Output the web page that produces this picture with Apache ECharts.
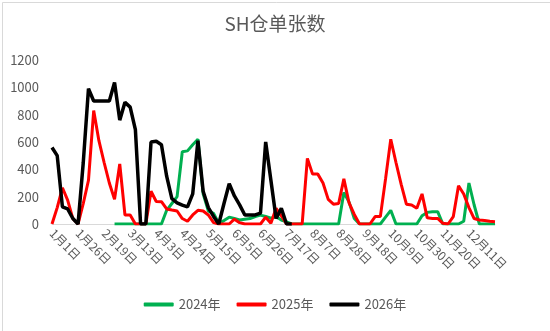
<!DOCTYPE html>
<html>
<head>
<meta charset="utf-8">
<script src="https://cdn.jsdelivr.net/npm/echarts@6/dist/echarts.min.js"></script>
<style>
  html, body { margin: 0; padding: 0; background: #fff; }
  #main { width: 550px; height: 331px; }
</style>
</head>
<body>
<div id="main"></div>
<script>
var categories = [
  '1月1日', '1月6日', '1月11日', '1月16日', '1月21日',
  '1月26日', '1月31日', '2月5日', '2月9日', '2月14日',
  '2月19日', '2月23日', '2月28日', '3月4日', '3月8日',
  '3月13日', '3月17日', '3月21日', '3月25日', '3月29日',
  '4月3日', '4月7日', '4月11日', '4月15日', '4月19日',
  '4月24日', '4月28日', '5月2日', '5月6日', '5月10日',
  '5月15日', '5月19日', '5月23日', '5月27日', '5月31日',
  '6月5日', '6月9日', '6月13日', '6月17日', '6月21日',
  '6月26日', '6月30日', '7月4日', '7月8日', '7月12日',
  '7月17日', '7月21日', '7月25日', '7月29日', '8月2日',
  '8月7日', '8月11日', '8月15日', '8月19日', '8月23日',
  '8月28日', '9月1日', '9月5日', '9月9日', '9月13日',
  '9月18日', '9月22日', '9月26日', '9月30日', '10月4日',
  '10月9日', '10月13日', '10月17日', '10月21日', '10月25日',
  '10月30日', '11月3日', '11月7日', '11月11日', '11月15日',
  '11月20日', '11月24日', '11月28日', '12月2日', '12月6日',
  '12月11日', '12月15日', '12月19日', '12月23日', '12月27日', '12月31日'
];

// labels actually printed under the axis
var tickLabels = [
  '1月1日', '1月26日', '2月19日', '3月13日', '4月3日', '4月24日',
  '5月15日', '6月5日', '6月26日', '7月17日', '8月7日', '8月28日',
  '9月18日', '10月9日', '10月30日', '11月20日', '12月11日'
];

var data2024 = [
  null, null, null, null, null, null, null, null, null, null, null, null,
  0, 0, 0, 0, 0, 0, 0, 0, 0, 0,
  100, 150, 200, 529, 535, 580, 620, 220, 95, 78,
  5, 25, 50, 40, 30, 35, 40, 55, 65, 55,
  42, 54, 29, 15, 0, 0, 0, 0, 0, 0,
  0, 0, 0, 0, 230, 160, 40, 0, 0, 0,
  0, 0, 50, 100, 0, 0, 0, 0, 0, 60,
  85, 90, 90, 0, 0, 0, 0, 20, 300, 139,
  0, 0, 0, 0
];

var data2025 = [
  0, 120, 265, 175, 40, 0, 150, 320, 830, 610,
  450, 300, 180, 440, 66, 66, 0, 0, 0, 240,
  165, 163, 110, 102, 95, 40, 20, 66, 100, 95,
  66, 10, 0, 0, 0, 35, 10, 0, 0, 0,
  0, 50, 5, 115, 60, 0, 0, 0, 0, 480,
  365, 365, 300, 180, 145, 150, 330, 154, 70, 0,
  0, 0, 54, 54, 330, 620, 450, 290, 145, 139,
  115, 220, 45, 41, 41, 5, 0, 54, 280, 220,
  120, 40, 29, 25, 20, 17
];

var data2026 = [
  560, 500, 125, 110, 40, 0, 450, 990, 900, 900,
  900, 900, 1035, 760, 890, 855, 690, 0, 0, 600,
  605, 580, 350, 185, 155, 138, 125, 220, 610, 240,
  120, 55, 0, 150, 295, 205, 140, 66, 66, 66,
  80, 600, 320, 40, 115, 0, 0
];

var seriesNames = ['2024年', '2025年', '2026年'];
var seriesColors = ['#00B050', '#FF0000', '#000000'];
var yTicks = [0, 200, 400, 600, 800, 1000, 1200];

var myChart = echarts.init(document.getElementById('main'));
var font = '"Noto Sans CJK SC", "Noto Sans", sans-serif';

function lineSeries(idx, values) {
  return {
    name: seriesNames[idx],
    type: 'line',
    data: values,
    symbol: 'none',
    smooth: false,
    connectNulls: false,
    lineStyle: { color: seriesColors[idx], width: idx === 2 ? 3.5 : 3 },
    itemStyle: { color: seriesColors[idx] },
    z: idx + 2
  };
}

var option = {
  animation: false,
  backgroundColor: '#fff',
  textStyle: { fontFamily: font },
  title: {
    text: 'SH仓单张数',
    left: 'center',
    top: 9,
    textStyle: { fontSize: 19, fontWeight: 'normal', color: '#595959', fontFamily: font }
  },
  legend: {
    bottom: 15,
    left: 'center',
    icon: 'roundRect',
    itemWidth: 30,
    itemHeight: 4,
    itemGap: 16,
    textStyle: { fontSize: 13, color: '#595959', fontFamily: font },
    data: seriesNames
  },
  grid: { left: 52, right: 55, top: 60, bottom: 107, containLabel: false },
  xAxis: {
    type: 'category',
    data: categories,
    boundaryGap: false,
    axisLine: { lineStyle: { color: '#D9D9D9', width: 1 } },
    axisTick: { show: false },
    splitLine: { show: false },
    axisLabel: {
      interval: function (index, value) {
        return tickLabels.indexOf(value) !== -1;
      },
      rotate: -45,
      margin: 7,
      fontSize: 12,
      color: '#595959',
      fontFamily: font
    }
  },
  yAxis: {
    type: 'value',
    min: yTicks[0],
    max: yTicks[yTicks.length - 1],
    interval: 200,
    axisLine: { show: false },
    axisTick: { show: false },
    splitLine: { show: false },
    axisLabel: {
      fontSize: 13,
      color: '#595959',
      margin: 13,
      fontFamily: font,
      formatter: function (v) { return String(v); }
    }
  },
  graphic: [{
    type: 'rect',
    left: 0, top: 0,
    shape: { width: 549, height: 330 },
    style: { fill: 'none', stroke: '#D9D9D9', lineWidth: 1 },
    silent: true
  }],
  series: [
    lineSeries(0, data2024),
    lineSeries(1, data2025),
    lineSeries(2, data2026)
  ]
};

myChart.setOption(option);
</script>
</body>
</html>
